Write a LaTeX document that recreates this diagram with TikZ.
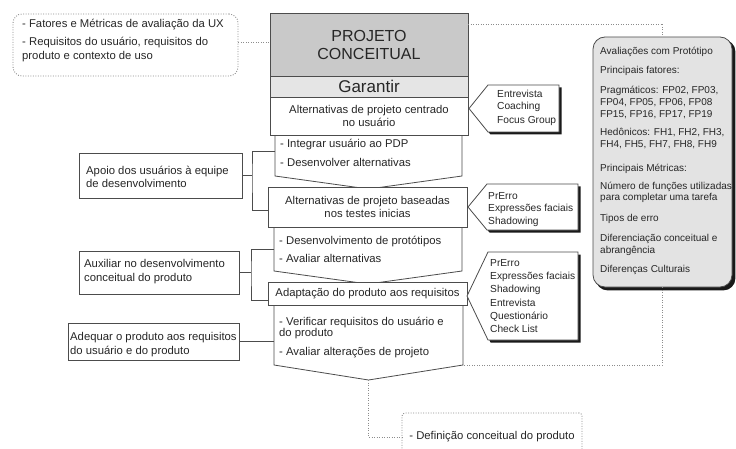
\documentclass[tikz,border=0pt]{standalone}
\usepackage{fontspec}
\setmainfont{Liberation Sans}
\usetikzlibrary{calc,backgrounds}
\begin{document}
\begin{tikzpicture}[x=1pt,y=-1pt,
  line/.style={draw=black!70, line width=0.8pt},
  dotline/.style={draw=black!45, line width=0.9pt, dash pattern=on 0.9pt off 1.6pt},
  frame/.style={line, fill=white, inner sep=0pt, outer sep=0pt},
  area/.style={inner sep=0pt, outer sep=0pt},
  txt/.style={text=black!85, inner sep=0pt, align=left, anchor=west, font=\fontsize{11.3}{13}\selectfont},
  ctxt/.style={text=black!85, align=center, font=\fontsize{11.3}{13.5}\selectfont},
  stxt/.style={txt, font=\fontsize{10.2}{13}\selectfont},
  shadowfill/.style={fill=black!90, transform canvas={shift={(#1,#1)}}},
  shadowfill/.default=2.5,
]
\useasboundingbox (0,0) rectangle (736,449);

% ---- chevron-shaped task blocks (drawn first, boxes overlap their tips)
\node[area, minimum width=187pt, minimum height=41pt] (c1) at (368.5,155.5) {};
\node[area, minimum width=188pt, minimum height=44pt] (c2) at (368,249) {};
\node[area, minimum width=189pt, minimum height=60pt] (c3) at (368.5,335) {};
\coordinate (c1tip) at ($(c1.south)+(0,13)$);
\coordinate (c2tip) at ($(c2.south)+(0,13)$);
\coordinate (c3tip) at ($(c3.south)+(0,15)$);
\foreach \c in {c1,c2,c3}
  \path[line, fill=white] (\c.north west) -- (\c.north east) -- (\c.south east)
        -- (\c tip) -- (\c.south west) -- cycle;

% ---- central column
\node[frame, ctxt, fill=black!21, minimum width=198pt, minimum height=63pt,
      font=\fontsize{16}{18}\selectfont] (title) at (369,44.5) {PROJETO\\CONCEITUAL};
\node[frame, fill=black!10, minimum width=198pt, minimum height=21pt, text=black!85,
      font=\fontsize{17}{19}\selectfont] (gar) at (369,86.5) {Garantir};
\node[frame, ctxt, minimum width=198pt, minimum height=38pt] (boxA) at (369,116)
      {Alternativas de projeto centrado\\no usuário};
\node[frame, ctxt, minimum width=199pt, minimum height=40pt] (boxB) at (367.5,207)
      {Alternativas de projeto baseadas\\nos testes inicias};
\node[frame, ctxt, minimum width=199pt, minimum height=23pt] (boxC) at (367.5,293.5)
      {Adaptação do produto aos requisitos};

\node[txt] (c1t) at (280,152.5) {- Integrar usuário ao PDP\\[6pt]- Desenvolver alternativas};
\node[txt] (c2t) at (279,249) {- Desenvolvimento de protótipos\\[5pt]- Avaliar alternativas};
\node[txt] (c3t) at (279,338) {- Verificar requisitos do usuário e\\[-2pt]do produto\\[6pt]- Avaliar alterações de projeto};

% ---- goals on the left
\node[frame, minimum width=163pt, minimum height=45pt] (l1) at (160.5,175.5) {};
\node[txt] (l1t) at (86,176.5) {Apoio dos usuários à equipe\\de desenvolvimento};
\node[frame, minimum width=160pt, minimum height=43pt] (l2) at (159,272.5) {};
\node[txt] (l2t) at (84,272) {Auxiliar no desenvolvimento\\[1pt]conceitual do produto};
\node[frame, minimum width=171pt, minimum height=37pt] (l3) at (153.5,341.5) {};
\node[txt] (l3t) at (70,345) {Adequar o produto aos requisitos\\[1pt]do usuário e do produto};

\coordinate (b1) at ($(l1.east)+(10,0)$);
\coordinate (b2) at ($(l2.east)+(12,0)$);
\draw[line] (l1.east) -- (b1);
\draw[line] (c1.west |- 0,151) -| (b1) |- (boxB.west |- 0,210);
\draw[line] (l2.east) -- (b2);
\draw[line] (c2.west) -| (b2) |- (boxC.west |- 0,300);
\draw[line] (l3.east) -- (l3.east -| c3.west);

% ---- method tags on the right (pointed on the left, hard shadow bottom right)
\node[area, minimum width=71pt, minimum height=47pt] (r1) at (523.5,108.5) {};
\node[area, minimum width=91pt, minimum height=46pt] (r2) at (532.5,207) {};
\node[area, minimum width=90pt, minimum height=88pt] (r3) at (533,296) {};
\coordinate (r1tip) at ($(r1.west)+(-19,0)$);
\coordinate (r2tip) at ($(r2.west)+(-19,0)$);
\coordinate (r3tip) at ($(r3.west)+(-21,0)$);
\begin{pgfonlayer}{background}
  \foreach \r in {r1,r2,r3}
    \path[shadowfill] (\r tip) -- (\r.north west) -- (\r.north east)
          -- (\r.south east) -- (\r.south west) -- cycle;
\end{pgfonlayer}
\foreach \r in {r1,r2,r3}
  \path[line, fill=white] (\r tip) -- (\r.north west) -- (\r.north east)
        -- (\r.south east) -- (\r.south west) -- cycle;
\node[stxt] (r1t) at (497,108) {Entrevista\\[-1pt]Coaching\\[1pt]Focus Group};
\node[stxt, font=\fontsize{10.2}{12.5}\selectfont] (r2t) at (488,209.5) {PrErro\\Expressões faciais\\Shadowing};
\node[stxt, font=\fontsize{10.2}{13.2}\selectfont] (r3t) at (490,296)
      {PrErro\\Expressões faciais\\Shadowing\\Entrevista\\Questionário\\Check List};

% ---- evaluation panel
\node[line, fill=black!11, rounded corners=12pt, minimum width=139pt, minimum height=250pt,
      inner sep=0pt] (eval) at (662.5,162) {};
\begin{pgfonlayer}{background}
  \path[shadowfill=3, rounded corners=12pt] (eval.north west) rectangle (eval.south east);
\end{pgfonlayer}
\node[txt, font=\fontsize{10}{12}\selectfont] (evalt) at (600,161)
  {Avaliações com Protótipo\\[7pt]Principais fatores:\\[8pt]Pragmáticos: FP02, FP03,\\FP04, FP05, FP06, FP08\\FP15, FP16, FP17, FP19\\[6pt]Hedônicos: FH1, FH2, FH3,\\FH4, FH5, FH7, FH8, FH9\\[12pt]Principais Métricas:\\[6pt]Número de funções utilizadas\\[-1pt]para completar uma tarefa\\[9pt]Tipos de erro\\[8pt]Diferenciação conceitual e\\abrangência\\[7pt]Diferenças Culturais};

% ---- inputs and outputs (dotted)
\node[dotline, rounded corners=9pt, minimum width=225pt, minimum height=62pt, inner sep=0pt] (tl) at (125.5,45) {};
\node[txt] (tlt) at (22,41) {- Fatores e Métricas de avaliação da UX\\[5pt]- Requisitos do usuário, requisitos do\\[1pt]produto e contexto de uso};
\node[dotline, ctxt, rounded corners=3pt, minimum width=180pt, minimum height=48pt, inner sep=0pt] (def) at (492,437)
      {- Definição conceitual do produto};

\draw[dotline] (tl.east |- 0,42) -- (title.west |- 0,42);
\draw[dotline] (title.east |- 0,24) -| (eval.north);
\draw[dotline] (eval.south) |- (c3.south east);
\draw[dotline] (c3tip) |- (def.west);
\end{tikzpicture}
\end{document}
